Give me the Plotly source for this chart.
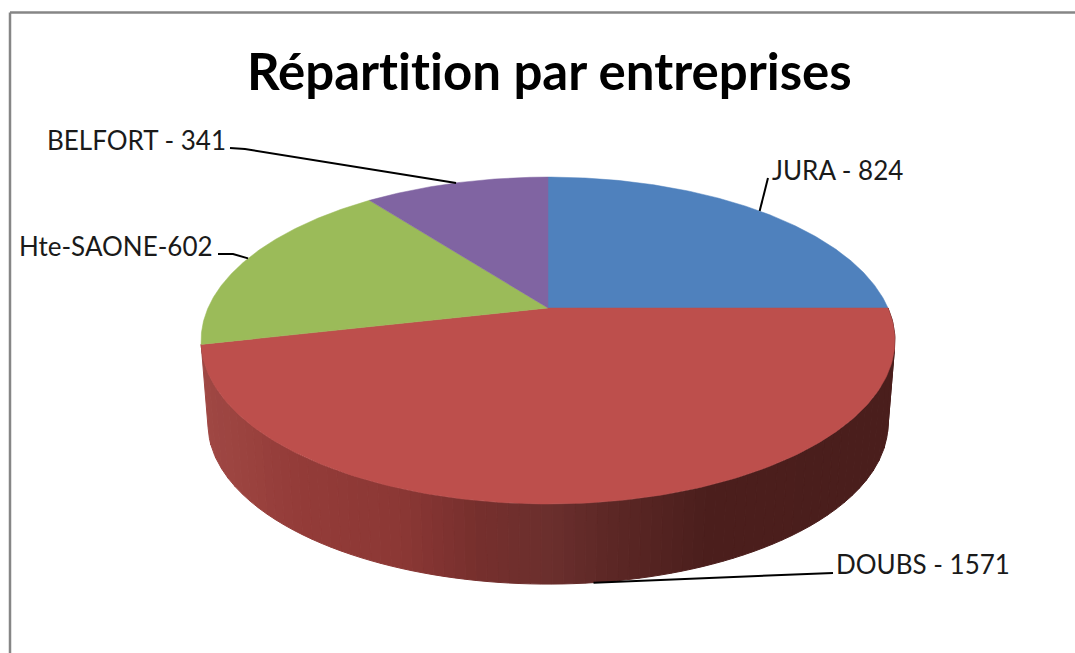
import numpy as np
import plotly.graph_objects as go

# --- data ---
categories = ["JURA", "DOUBS", "Hte-SAONE", "BELFORT"]
values = [824, 1571, 602, 341]
labels = ["JURA - 824", "DOUBS - 1571", "Hte-SAONE-602", "BELFORT - 341"]
title = "Répartition par entreprises"

# --- styles and layout ---
colors = ["#4f81bd", "#bd4f4c", "#9bbb59", "#8064a2"]
W, H = 1075, 653
CX, CY, A, B, K = 548.0, 308.0, 340.0, 157.0, 0.199   # projected disc
DEPTH, BOTTOM_SCALE = 84.0, 0.98
VIEW_SKEW = 1.12
FONT = "Lato"
label_centers = [(837, 170), (923, 564), (116, 246), (136, 140)]
leader_elbows = [[(768, 178)], [(833, 573)], [(233, 254), (218, 254)], [(245, 149), (230, 148)]]
shade_x = [205, 300, 400, 480, 550, 600, 700, 895]
shade_r = [160, 148, 140, 118, 107, 95, 76, 74]
shade_g = [72, 60, 56, 47, 47, 41, 31, 30]
shade_b = [68, 57, 53, 45, 46, 39, 29, 28]


def warp(theta_deg):
    return theta_deg + VIEW_SKEW * np.sin(np.radians(theta_deg))


def project(theta_deg, scale=1.0, dy=0.0):
    """Clockwise angle from 12 o'clock -> screen position through the perspective disc."""
    t = np.radians(warp(np.asarray(theta_deg, dtype=float)))
    u, v = np.sin(t), np.cos(t)
    w = 1 + K * v
    return CX + scale * A * u / w, CY + dy - scale * B * v / w


total = sum(values)
edges = np.concatenate([[0.0], np.cumsum(values) / total * 360.0])
fig = go.Figure()


def wall_polygon(a, b):
    th = np.linspace(a, b, 12)
    xa, ya = project(th)
    xb, yb = project(th[::-1], BOTTOM_SCALE, DEPTH)
    return np.r_[xa, xb, xa[0]], np.r_[ya, yb, ya[0]]


def shade(x):
    return "rgb(%d,%d,%d)" % (np.interp(x, shade_x, shade_r),
                              np.interp(x, shade_x, shade_g),
                              np.interp(x, shade_x, shade_b))


# Side wall of the red slice: strips of equal screen width, right (dark) to left (light)
t0, t1 = edges[1], edges[2]
u_grid = np.linspace(1.0, np.sin(np.radians(t1)), 75)
theta_grid = np.degrees(np.pi - np.arcsin(u_grid))
theta_grid[0], theta_grid[-1] = t0, t1
for a, b in zip(theta_grid[:-1], theta_grid[1:]):
    x, y = wall_polygon(a, b)
    c = shade(x.mean())
    fig.add_trace(go.Scatter(x=x, y=y, mode="lines", fill="toself", fillcolor=c,
                             line=dict(color=c, width=1), hoverinfo="skip", showlegend=False))

# Top faces
for i, cat in enumerate(categories):
    th = np.linspace(edges[i], edges[i + 1], 181)
    x, y = project(th)
    fig.add_trace(go.Scatter(x=np.r_[CX, x, CX], y=np.r_[CY, y, CY], mode="lines", fill="toself",
                             fillcolor=colors[i], line=dict(color=colors[i], width=0.5),
                             name=cat, text=labels[i], hoverinfo="text", showlegend=False))

# Leader lines start at each slice's mid-angle
for i in range(len(categories)):
    mid = (edges[i] + edges[i + 1]) / 2
    if i == 1:
        sx, sy = project(mid, BOTTOM_SCALE, DEPTH)
    else:
        sx, sy = project(mid)
    pts = [(float(sx), float(sy))] + leader_elbows[i]
    fig.add_trace(go.Scatter(x=[p[0] for p in pts], y=[p[1] for p in pts], mode="lines",
                             line=dict(color="#000000", width=2),
                             hoverinfo="skip", showlegend=False))

annotations = [dict(x=px, y=py, text=t, showarrow=False, xanchor="center", yanchor="middle",
                    xref="x", yref="y", font=dict(family=FONT, size=26, color="#1a1a1a"))
               for t, (px, py) in zip(labels, label_centers)]
annotations.append(dict(x=549, y=70, text="<b>%s</b>" % title, showarrow=False, xanchor="center",
                        yanchor="middle", xref="x", yref="y",
                        font=dict(family=FONT, size=51, color="#000000")))

frame = dict(type="line", xref="x", yref="y", line=dict(color="#868686", width=2.5))
fig.update_layout(
    width=W, height=H, margin=dict(l=0, r=0, t=0, b=0), autosize=False,
    paper_bgcolor="#ffffff", plot_bgcolor="#ffffff",
    xaxis=dict(range=[0, W], visible=False, fixedrange=True),
    yaxis=dict(range=[H, 0], visible=False, fixedrange=True),
    annotations=annotations,
    shapes=[dict(frame, x0=10, x1=W, y0=12.5, y1=12.5), dict(frame, x0=10, x1=10, y0=12.5, y1=H)],
)
post = ("document.body.style.margin='0';document.body.style.overflow='hidden';"
        "var s=document.createElement('style');"
        "s.textContent='svg text{font-variant-ligatures:none !important;}';"
        "document.head.appendChild(s);")
fig.write_html("out.html", config={"displayModeBar": False}, post_script=post)
